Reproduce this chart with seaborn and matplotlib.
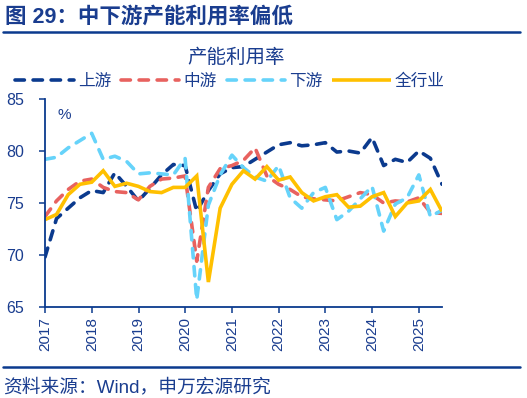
import pandas as pd
import numpy as np
import matplotlib
matplotlib.use("Agg")
import matplotlib.pyplot as plt
import matplotlib.dates as mdates
from matplotlib.lines import Line2D
import seaborn as sns

sns.set_style("ticks")
plt.rcParams["font.family"] = ["Liberation Sans", "Noto Sans CJK SC", "DejaVu Sans"]

NAVY = "#0B3A8E"
TEXT = "#1A3D8F"

# quarterly observations, 2016Q4 .. 2025Q2
dates = pd.date_range("2016-12-31", "2025-06-30", freq="QE")

upstream = [69.8, 73.5, 74.5, 75.5, 76.2, 76.0, 77.9, 76.6, 75.2, 76.4, 77.7, 78.7,
            78.6, 74.2, 76.2, 77.8, 78.4, 78.5, 79.2, 79.9, 80.6, 80.8, 80.5, 80.6,
            80.8, 79.9, 80.0, 79.8, 81.3, 78.6, 79.2, 78.9, 80.0, 79.3, 76.8]
midstream = [73.7, 75.2, 76.3, 77.1, 77.3, 76.5, 76.1, 76.0, 75.3, 76.6, 77.3, 77.4,
             77.6, 69.4, 76.5, 78.3, 78.6, 79.1, 80.3, 77.6, 76.8, 76.3, 75.6, 75.4,
             75.3, 75.2, 75.6, 76.0, 75.8, 75.0, 75.2, 75.1, 75.5, 74.1, 74.0]
downstream = [79.2, 79.4, 80.3, 81.0, 81.7, 79.2, 79.5, 79.0, 77.8, 77.9, 77.8, 77.7,
              79.3, 65.7, 74.8, 77.7, 79.6, 78.4, 77.5, 77.1, 78.6, 75.5, 74.5, 76.0,
              76.5, 73.4, 74.2, 75.4, 76.6, 72.3, 74.9, 75.5, 77.7, 73.7, 74.3]
industry = [73.4, 73.9, 75.8, 76.8, 77.0, 78.1, 76.6, 76.9, 76.6, 76.1, 76.0, 76.5,
            76.5, 77.6, 67.4, 74.5, 76.8, 78.1, 77.3, 78.5, 77.2, 77.5, 76.0, 75.2,
            75.6, 75.8, 74.6, 74.7, 75.6, 76.0, 73.7, 75.0, 75.2, 76.3, 74.2]

DASH = (0, (2.6, 2.4))
series = {
    "上游": (upstream, NAVY, DASH),
    "中游": (midstream, "#E8625F", DASH),
    "下游": (downstream, "#66D3FA", DASH),
    "全行业": (industry, "#FFC000", "-"),
}

fig = plt.figure(figsize=(5.27, 3.98), dpi=100)
ax = fig.add_axes([45 / 527, 1 - 307 / 398, 397 / 527, 208 / 398])

for name, (vals, col, ls) in series.items():
    sns.lineplot(x=dates, y=vals, ax=ax, color=col, linestyle=ls, linewidth=2.6,
                 label=name, sort=False, estimator=None,
                 dash_capstyle="round", solid_capstyle="butt", solid_joinstyle="miter")

ax.set_xlim(dates[0], dates[-1])
ax.set_ylim(65, 85)
ax.set_yticks([65, 70, 75, 80, 85])
years = pd.date_range("2017-01-01", "2025-01-01", freq="YS")
ax.set_xticks(years)
ax.xaxis.set_major_formatter(mdates.DateFormatter("%Y"))
plt.setp(ax.get_xticklabels(), rotation=90)
ax.set_xlabel("")
ax.set_ylabel("")

sns.despine(ax=ax)
for s in ["left", "bottom"]:
    ax.spines[s].set_color(NAVY)
    ax.spines[s].set_linewidth(1.3)
ax.tick_params(axis="y", direction="out", length=4, width=1.1, color=NAVY,
               labelcolor=TEXT, labelsize=11.5, pad=11)
ax.tick_params(axis="x", direction="out", length=4, width=1.1, color=NAVY,
               labelcolor=TEXT, labelsize=11, pad=3)

fig.text(57 / 527, 1 - 119 / 398, "%", fontsize=11, color=TEXT)

handles, labels = ax.get_legend_handles_labels()
ax.get_legend().remove()
fig.legend(handles, labels, loc="center", bbox_to_anchor=(230 / 527, 1 - 81 / 398),
           ncol=4, frameon=False, fontsize=12, handlelength=3.5, handletextpad=0.25,
           columnspacing=0.6, labelcolor=TEXT)

fig.text(236 / 527, 1 - 58 / 398, "产能利用率", ha="center", va="center",
         fontsize=14, color=TEXT)

fig.text(5 / 527, 1 - 17 / 398, "图 29：中下游产能利用率偏低", ha="left", va="center",
         fontsize=15.5, fontweight="bold", color=TEXT)
fig.add_artist(Line2D([3 / 527, 520 / 527], [1 - 31.5 / 398] * 2, lw=1.8, color=NAVY))
fig.add_artist(Line2D([3 / 527, 520 / 527], [1 - 366.5 / 398] * 2, lw=1.8, color=NAVY))
fig.text(3 / 527, 1 - 387 / 398, "资料来源：Wind，申万宏源研究", ha="left", va="center",
         fontsize=13.5, color=TEXT)

fig.savefig("out.png", dpi=100)
